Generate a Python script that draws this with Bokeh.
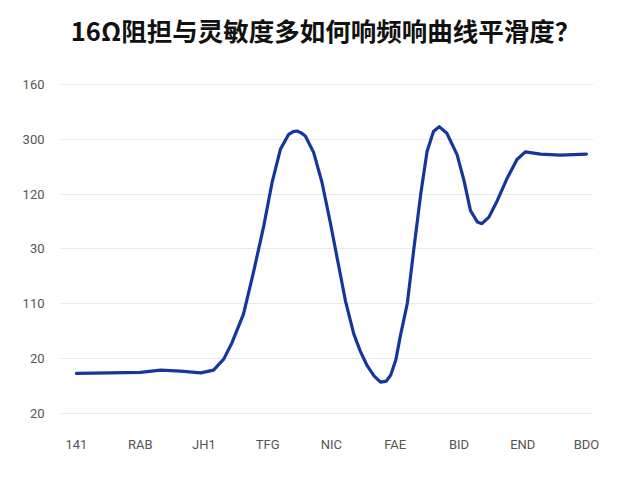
from bokeh.plotting import figure
from bokeh.models import FixedTicker, Range1d, Label
from bokeh.embed import file_html
from bokeh.resources import INLINE

title_text = "16Ω阻担与灵敏度多如何响频响曲线平滑度？"

categories = ["141", "RAB", "JH1", "TFG", "NIC", "FAE", "BID", "END", "BDO"]
y_tick_labels = ["20", "20", "110", "30", "120", "300", "160"]

# curve samples: position along category axis, value in grid units
curve_x = [0.00, 0.53, 1.00, 1.32, 1.63, 1.95, 2.15, 2.31, 2.44, 2.62, 2.78, 2.94,
           3.07, 3.20, 3.33, 3.40, 3.46, 3.52, 3.59, 3.72, 3.85, 3.98, 4.09, 4.22,
           4.35, 4.45, 4.56, 4.67, 4.77, 4.86, 4.93, 5.01, 5.08, 5.19, 5.29, 5.40,
           5.50, 5.60, 5.69, 5.81, 5.97, 6.08, 6.18, 6.29, 6.36, 6.47, 6.60, 6.76,
           6.91, 7.04, 7.28, 7.59, 8.00]
curve_y = [0.73, 0.74, 0.75, 0.79, 0.77, 0.74, 0.79, 0.99, 1.29, 1.81, 2.59, 3.43,
           4.22, 4.82, 5.09, 5.14, 5.15, 5.12, 5.06, 4.76, 4.22, 3.49, 2.83, 2.05,
           1.45, 1.14, 0.87, 0.68, 0.57, 0.59, 0.70, 0.98, 1.41, 2.01, 2.98, 4.00,
           4.78, 5.14, 5.23, 5.11, 4.72, 4.24, 3.70, 3.49, 3.46, 3.58, 3.88, 4.30,
           4.63, 4.77, 4.73, 4.71, 4.73]

p = figure(width=624, height=464, output_backend="svg", toolbar_location=None,
           min_border_left=60, min_border_right=31, min_border_top=0,
           min_border_bottom=39)
p.x_range = Range1d(-0.25, 8.11)
p.y_range = Range1d(-0.22, 7.53)

title = Label(x=265, y=396, x_units="screen", y_units="screen", text=title_text,
              text_align="center", text_baseline="middle", text_font_size="25.5px",
              text_font="Noto Sans CJK SC", text_font_style="bold",
              text_color="#111111")
p.add_layout(title)

p.line(curve_x, curve_y, line_color="#15369a", line_width=3.2,
       line_join="round", line_cap="round")

p.outline_line_color = None
p.background_fill_color = "white"
p.border_fill_color = "white"

p.xaxis.ticker = FixedTicker(ticks=list(range(len(categories))))
p.xaxis.major_label_overrides = {i: c for i, c in enumerate(categories)}
p.yaxis.ticker = FixedTicker(ticks=list(range(len(y_tick_labels))))
p.yaxis.major_label_overrides = {i: t for i, t in enumerate(y_tick_labels)}

for ax in (p.xaxis, p.yaxis):
    ax.axis_line_color = None
    ax.major_tick_line_color = None
    ax.minor_tick_line_color = None
    ax.major_label_text_font = "Roboto"
    ax.major_label_text_font_size = "13px"
    ax.major_label_text_color = "#555555"
p.xaxis.major_label_standoff = 5
p.yaxis.major_label_standoff = 10

p.xgrid.grid_line_color = None
p.ygrid.grid_line_color = "#e9e9e9"
p.ygrid.grid_line_width = 1

open("out.html", "w").write(file_html(p, INLINE))
